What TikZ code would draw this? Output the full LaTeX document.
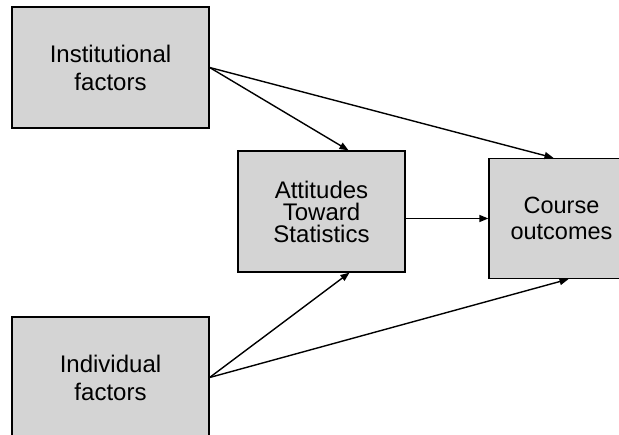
\documentclass[tikz,border=0pt]{standalone}
\usepackage{fontspec}
\setmainfont{Liberation Sans}
\usetikzlibrary{arrows.meta}
\definecolor{boxgray}{HTML}{D4D4D4}
\begin{document}
\begin{tikzpicture}[x=1pt,y=-1pt,
  factorbox/.style={draw=black, line width=1.3pt, fill=boxgray, align=center,
    inner sep=0pt, font=\fontsize{24}{28}\selectfont},
  link/.style={line width=1.4pt, -{Triangle[length=9pt,width=7pt]}}]
  \clip (0,0) rectangle (619,435);
  \fill[white] (0,0) rectangle (619,435);

  \node[factorbox, minimum width=197pt, minimum height=121pt] (inst) at (110.5,67.5)
    {Institutional\\factors};
  \node[factorbox, minimum width=197pt, minimum height=121pt] (indiv) at (110.5,377.5)
    {Individual\\factors};
  \node[factorbox, minimum width=167pt, minimum height=121pt,
    font=\fontsize{24}{22}\selectfont] (att) at (321.5,211.5)
    {Attitudes\\Toward\\Statistics};
  \node[factorbox, minimum width=145pt, minimum height=120pt,
    font=\fontsize{23.5}{26}\selectfont] (course) at (561.5,218.5)
    {Course\\outcomes};

  \draw[link] (inst.east) -- ([xshift=27pt]att.north);
  \draw[link] (inst.east) -- ([xshift=-8pt]course.north);
  \draw[link] ([yshift=-7pt]att.east) -- (course.west);
  \draw[link] (indiv.east) -- ([xshift=28pt]att.south);
  \draw[link] (indiv.east) -- ([xshift=7pt]course.south);
\end{tikzpicture}
\end{document}
